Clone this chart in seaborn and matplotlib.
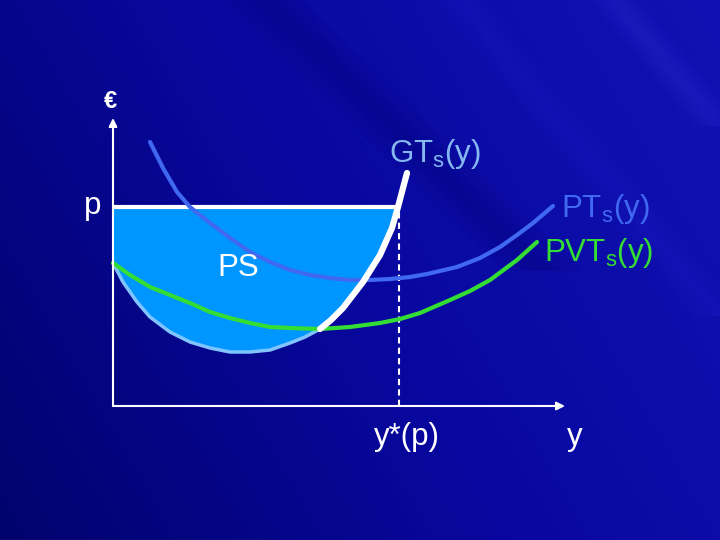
import matplotlib
matplotlib.use('Agg')
import matplotlib.pyplot as plt
import seaborn as sns
import numpy as np
import pandas as pd

# curve points (x = output y, value in euros; arbitrary units)
pt_x = [37, 50, 64, 77, 97, 117, 137, 157, 177, 197, 217, 237, 257, 277, 297,
        314, 344, 367, 387, 404, 420, 440]
pt_y = [264, 238, 214, 199, 183, 168, 154, 144, 136, 131, 128, 126, 126, 127, 129,
        132, 139, 148, 159, 171, 183, 200]

pvt_x = [0, 17, 37, 57, 77, 97, 117, 137, 157, 177, 207, 237, 267, 287, 307,
         337, 357, 377, 404, 424]
pvt_y = [143, 131, 119, 111, 103, 94, 88, 83, 79, 78, 77, 79, 83, 87, 93,
         106, 115, 126, 146, 164]

gt_x = [0, 10, 24, 37, 57, 77, 97, 117, 137, 157, 177, 192, 207, 218, 230, 250, 267,
        279, 285, 290, 294]
gt_y = [143, 124, 104, 89, 74, 64, 58, 54, 54, 56, 63, 69, 77, 86, 98, 124, 151,
        178, 199, 218, 233]

price = 199
y_star = 285
pvt_min_x = 207

sns.set_theme(style='white')
plt.rcParams['font.family'] = ['Liberation Sans', 'DejaVu Sans']
plt.rcParams['mathtext.fontset'] = 'custom'
plt.rcParams['mathtext.rm'] = 'Liberation Sans'
plt.rcParams['lines.solid_joinstyle'] = 'round'
plt.rcParams['lines.solid_capstyle'] = 'round'

fig = plt.figure(figsize=(7.2, 5.4), dpi=100)
ax = fig.add_axes([0, 0, 1, 1])
ax.set_xlim(-113, 607)
ax.set_ylim(-134, 406)
ax.axis('off')

# dark blue slide background with a few soft diagonal streaks
gx, gy = np.meshgrid(np.linspace(0, 1, 200), np.linspace(0, 1, 150))
grad = 0.7 * gx + 0.3 * gy
bg = matplotlib.colors.LinearSegmentedColormap.from_list(
    'bg', ['#02026e', '#0808a0', '#1212b4'])
ax.imshow(grad, extent=(-113, 607, -134, 406), cmap=bg, aspect='auto',
          origin='lower', zorder=0)

streaks = [
    ((150, 406), (430, 135), 40, '#000050', 0.05),
    ((345, 406), (607, 90), 25, '#4040ff', 0.035),
    ((500, 406), (607, 280), 25, '#5050ff', 0.04),
]
for (x0, y0), (x1, y1), w, c, a in streaks:
    for k in np.linspace(0.25, 1.0, 4):
        hw = w * k
        ax.fill([x0 - hw, x0 + hw, x1 + hw, x1 - hw], [y0, y0, y1, y1],
                color=c, alpha=a, lw=0, zorder=0.5)

gt = pd.DataFrame({'x': gt_x, 'y': gt_y})
surplus = gt[gt['x'] <= y_star]

# producer surplus area
ax.fill_between(surplus['x'], surplus['y'], price,
                color='#0096ff', zorder=1, linewidth=0)

# marginal cost: light blue below PVT minimum, white (supply) above
low = gt[gt['x'] <= pvt_min_x]
high = gt[gt['x'] >= pvt_min_x]
sns.lineplot(x='x', y='y', data=low, sort=False, color='#80c4ff', lw=2.5, ax=ax, zorder=3)
sns.lineplot(x='x', y='y', data=high, sort=False, color='white', lw=4.5, ax=ax, zorder=4)

sns.lineplot(x=pt_x, y=pt_y, sort=False, color='#4068f0', lw=3, ax=ax, zorder=3)
sns.lineplot(x=pvt_x, y=pvt_y, sort=False, color='#33dd33', lw=3, ax=ax, zorder=3)

# price line and y*(p)
ax.plot([0, y_star], [price, price], color='white', lw=3, solid_capstyle='butt', zorder=2)
ax.plot([y_star + 1, y_star + 1], [0, price], color='white', lw=1.5,
        ls=(0, (3, 2)), zorder=2)

# axes with arrows
arrow = dict(arrowstyle='-|>', color='white', lw=1.5, mutation_scale=12,
             shrinkA=0, shrinkB=0)
ax.annotate('', xy=(0, 288), xytext=(0, 0), arrowprops=arrow, zorder=5)
ax.annotate('', xy=(452, 0), xytext=(0, 0), arrowprops=arrow, zorder=5)

fs = 22.5
ax.text(-3, 304, '€', color='white', fontsize=17, fontweight='bold',
        ha='center', va='center')
ax.text(-20, 200, 'p', color='white', fontsize=fs, ha='center', va='center')
ax.text(322, 252, r'GT$_{\mathrm{s}}$(y)', color='#86b8f0', fontsize=fs,
        ha='center', va='center')
ax.text(448, 197, r'PT$_{\mathrm{s}}$(y)', color='#4068f0', fontsize=fs,
        ha='left', va='center')
ax.text(431, 153, r'PVT$_{\mathrm{s}}$(y)', color='#33dd33', fontsize=fs,
        ha='left', va='center')
ax.text(125, 138, 'PS', color='white', fontsize=fs, ha='center', va='center')
ax.text(294, -31, 'y*(p)', color='white', fontsize=fs, ha='center', va='center')
ax.text(462, -31, 'y', color='white', fontsize=fs, ha='center', va='center')

fig.savefig('out.png', dpi=100)
